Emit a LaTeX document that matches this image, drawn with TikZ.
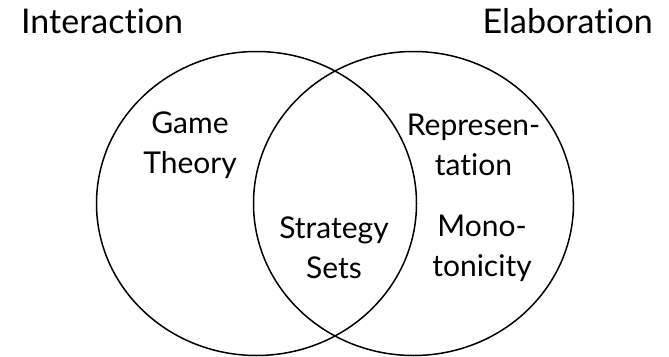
\documentclass[tikz,border=0pt]{standalone}
\usepackage{fontspec}
\setmainfont[Ligatures={NoCommon,NoContextual}]{Lato}
\usetikzlibrary{shapes.geometric}

\begin{document}
\begin{tikzpicture}[x=1pt,y=-1pt,
        set node/.style={ellipse,draw,line width=1.5pt,inner sep=0pt,minimum width=320pt,minimum height=304pt},
        label node/.style={align=center,inner sep=0pt,font=\fontsize{30}{40}\selectfont},
        title node/.style={inner sep=0pt,font=\fontsize{34}{40}\selectfont}]

        \useasboundingbox (0,0) rectangle (669,356);

        \node[set node] (interactionset) at (256.5,203.5) {};
        \node[set node] (elaborationset) at (413.5,203.5) {};

        \node[title node,anchor=base west] (interaction) at (21,33) {Interaction};
        \node[title node,anchor=base east] (elaboration) at (653,33) {Elaboration};

        \node[label node] (game) at (190,145) {Game\\Theory};
        \node[label node] (strategy) at (334,248) {Strategy\\Sets};
        \node[label node] (repr) at (473.5,145) {Represen-\\tation};
        \node[label node] (mono) at (482,248) {Mono-\\tonicity};
      \end{tikzpicture}
\end{document}
